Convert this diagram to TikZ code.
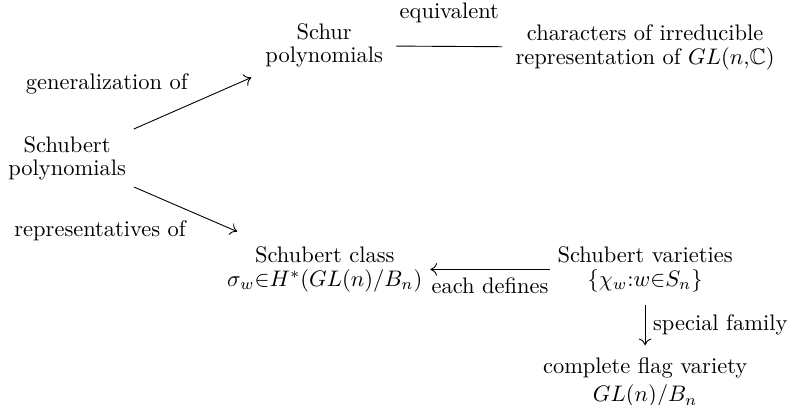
\documentclass[tikz,border=0pt]{standalone}
\usepackage{amsmath, amssymb}
\usepackage{tikz}
\usetikzlibrary{arrows.meta}

\begin{document}
\begin{tikzpicture}[>={Computer Modern Rightarrow[length=3pt, width=5.6pt]}]
          \useasboundingbox (0,0) rectangle (12.34,6.334);

          % Polynomials
          \node (schubpoly) at (1.05,3.86) {\shortstack{Schubert\\polynomials}};
          \node (schur) at (5.07,5.62) {\shortstack{Schur\\polynomials}};
          \node (chars) at (10.09,5.59) {\shortstack{characters of irreducible\\representation of $GL(n{,}\mathbb{C})$}};

          % Geometry
          \node (class) at (5.08,2.12) {\shortstack{Schubert class\\$\sigma_w{\in}H^*(GL(n)/B_n)$}};
          \node (varieties) at (10.09,2.12) {\shortstack{Schubert varieties\\$\{\chi_w{:}w{\in}S_n\}$}};
          \node (flag) at (10.09,0.35) {\shortstack{complete flag variety\\$GL(n)/B_n$}};

          % Schubert polynomials generalize Schur polynomials
          \draw[->, shorten >=3pt] (schubpoly) -- (schur) node[midway, above left] {generalization of};

          % Schubert polynomials represent Schubert classes
          \draw[->, shorten >=8pt] (schubpoly) -- (class) node[midway, below left] {representatives of};

          % Schur polynomials and characters
          \draw[shorten <=2.5pt, shorten >=2.5pt] (schur) -- (chars) node[midway, above=7pt] {equivalent};

          % Each variety defines a class
          \draw[->] (varieties) -- (class) node[midway, below] {each defines};

          % Flag variety
          \draw[->, shorten <=2pt, shorten >=2pt] (varieties) -- (flag) node[midway, right] {special family};

        \end{tikzpicture}
\end{document}
